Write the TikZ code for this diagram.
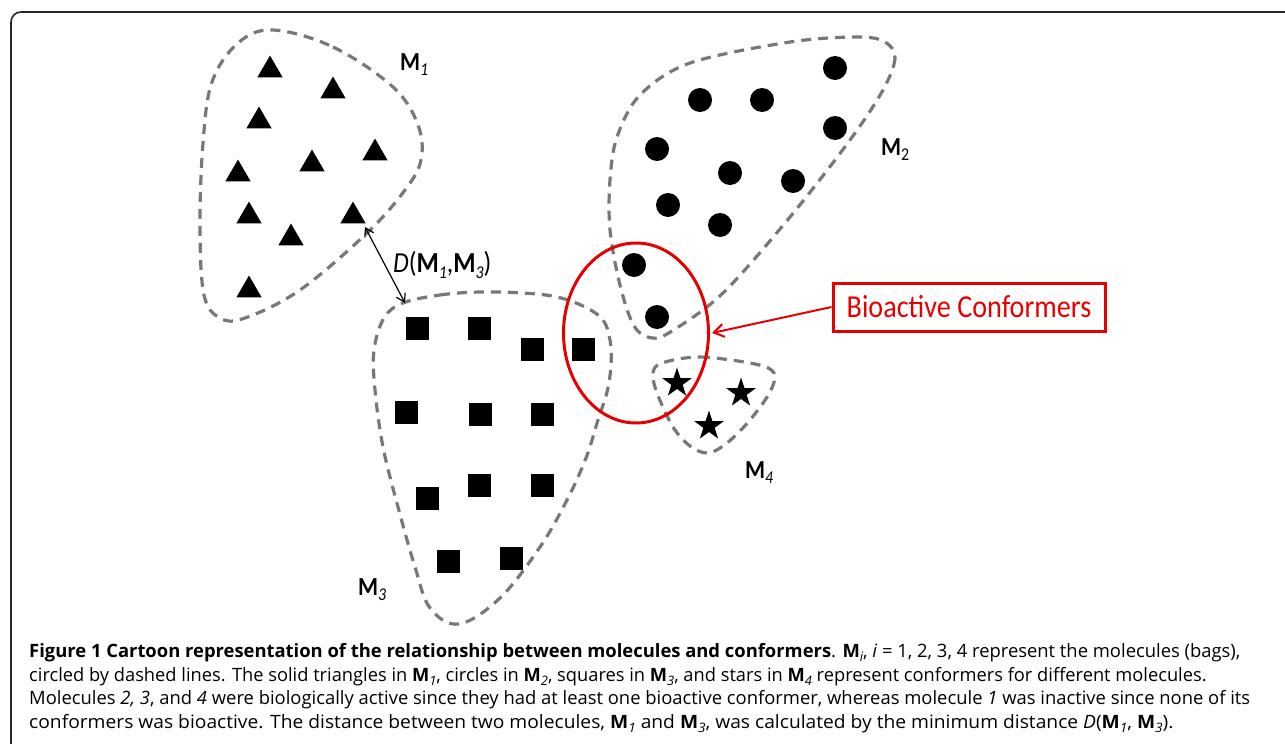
\documentclass[tikz,border=0pt]{standalone}
\usepackage{fontspec}
\setmainfont{Open Sans}
\newfontfamily\cali{Carlito}
\usetikzlibrary{shapes.geometric,arrows.meta}
\definecolor{bagg}{RGB}{120,120,120}
\definecolor{bred}{RGB}{230,0,0}
\newcommand\Mm[1]{\textbf{M}\raisebox{-0.22em}{\fontsize{18}{18}\selectfont\itshape #1}}
\newcommand\Mu[1]{\textbf{M}\raisebox{-0.22em}{\fontsize{18}{18}\selectfont #1}}
\newcommand\Mc[1]{\textbf{M}\raisebox{-0.25em}{\fontsize{13}{13}\selectfont\itshape #1}}
\begin{document}
\begin{tikzpicture}[x=1pt,y=-1pt,
  bag/.style={draw=bagg, line width=3.2pt, dash pattern=on 10pt off 7pt, line join=round},
  tri/.style={regular polygon, regular polygon sides=3, fill=black, inner sep=0pt, minimum size=29pt},
  sq/.style={rectangle, fill=black, minimum size=23pt, inner sep=0pt},
  dot/.style={circle, fill=black, minimum size=24pt, inner sep=0pt},
  st/.style={star, star points=5, star point ratio=2.6, fill=black, minimum size=31pt, inner sep=0pt},
  mlab/.style={font=\cali\fontsize{26}{26}\selectfont, inner sep=0pt, anchor=base west},
  captext/.style={font=\fontsize{18.4}{22}\selectfont, inner sep=0pt, anchor=base west}]
\useasboundingbox (0,0) rectangle (1285,744);
% frame
\draw[line width=1.6pt, black!85, rounded corners=10pt] (11,750) -- (11,12) -- (1295,12);
% bags
\draw[bag] plot[smooth cycle, tension=0.6] coordinates {(273,30) (333,47) (393,87) (418,125) (421,160) (405,190) (367,233) (300,290) (245,318) (220,318) (204,295) (200,227) (203,143) (212,82) (238,43)};
\draw[bag] plot[smooth cycle, tension=0.55] coordinates {(885,42) (895,58) (883,90) (850,140) (790,217) (723,293) (672,331) (652,338) (634,326) (620,285) (610,230) (610,180) (617,137) (640,95) (690,63) (790,42) (858,37)};
\draw[bag] plot[smooth cycle, tension=0.6] coordinates {(403,303) (440,295) (480,292) (523,293) (557,297) (585,307) (603,320) (610,340) (611,365) (607,392) (598,420) (586,458) (567,500) (540,547) (500,598) (459,624) (430,608) (415,567) (398,507) (383,447) (375,390) (374,350) (384,318)};
\draw[bag] plot[smooth cycle, tension=0.55] coordinates {(662,363) (700,357) (755,364) (774,373) (770,392) (750,420) (727,443) (708,453) (690,446) (673,427) (657,393) (653,373)};
% triangles
\foreach \n/\x/\y in {1/270/70,2/333/91,3/259/121,4/375/153,5/312/164,6/238/174,7/249/216,8/353/216,9/291/238,10/249/290}
  \node[tri] (t\n) at (\x,\y) {};
% circles
\foreach \n/\x/\y in {1/835/68,2/700/100,3/762/100,4/835/128,5/657/149,6/730/173,7/793/181,8/668/205,9/720/225,10/634/265,11/657/317}
  \node[dot] (c\n) at (\x,\y) {};
% squares
\foreach \n/\x/\y in {1/417/328,2/479/328,3/532/349,4/583/349,5/406/412,6/480/414,7/542/414,8/427/498,9/479/485,10/542/485,11/448/561,12/511/558}
  \node[sq] (s\n) at (\x,\y) {};
% stars
\foreach \n/\x/\y in {1/677/383,2/741/393,3/709/426}
  \node[st] (r\n) at (\x,\y) {};
% labels
\node[mlab] (m1) at (400,70) {\scalebox{0.88}[1]{\Mm{1}}};
\node[mlab] (m2) at (881,155) {\scalebox{0.88}[1]{\Mu{2}}};
\node[mlab] (m3) at (358,595) {\scalebox{0.88}[1]{\Mm{3}}};
\node[mlab] (m4) at (745,478) {\scalebox{0.88}[1]{\Mm{4}}};
% distance
\coordinate (d1) at (365,227);
\coordinate (d2) at (405,303);
\draw[line width=1.2pt, {Straight Barb[length=8pt,width=10pt]}-{Straight Barb[length=8pt,width=10pt]}] (d1) -- (d2);
\node[font=\cali\fontsize{29}{29}\selectfont, inner sep=0pt, anchor=base west] (dl) at (393,272) {\scalebox{0.88}[1]{\textit{D}(\Mm{1},\Mm{3})}};
% bioactive
\node[ellipse, draw=bred, line width=3pt, minimum width=145pt, minimum height=180pt, inner sep=0pt] (bio) at (636,333) {};
\node[draw=bred, line width=3pt, minimum width=272pt, minimum height=48pt, inner sep=0pt, text=bred, font=\cali\fontsize{32}{32}\selectfont] (box) at (969,307) {\scalebox{0.88}[1]{Bioactive Conformers}};
\draw[bred, line width=2pt, -{Straight Barb[length=10pt,width=13pt]}] (box.west) -- ([xshift=2pt]bio.east);
% caption
\node[captext] (l1) at (29,657) {\textbf{Figure 1 Cartoon representation of the relationship between molecules and conformers}. \Mc{i}, \textit{i} = 1, 2, 3, 4 represent the molecules (bags),};
\node[captext] (l2) at (29,681) {\scalebox{0.993}[1]{circled by dashed lines. The solid triangles in \Mc{1}, circles in \Mc{2}, squares in \Mc{3}, and stars in \Mc{4} represent conformers for different molecules.}};
\node[captext] (l3) at (29,704) {Molecules \textit{2, 3}, and \textit{4} were biologically active since they had at least one bioactive conformer, whereas molecule \textit{1} was inactive since none of its};
\node[captext] (l4) at (29,728) {\scalebox{1.045}[1]{conformers was bioactive. The distance between two molecules, \Mc{1} and \Mc{3}, was calculated by the minimum distance \textit{D}(\Mc{1}, \Mc{3}).}};
\end{tikzpicture}
\end{document}
